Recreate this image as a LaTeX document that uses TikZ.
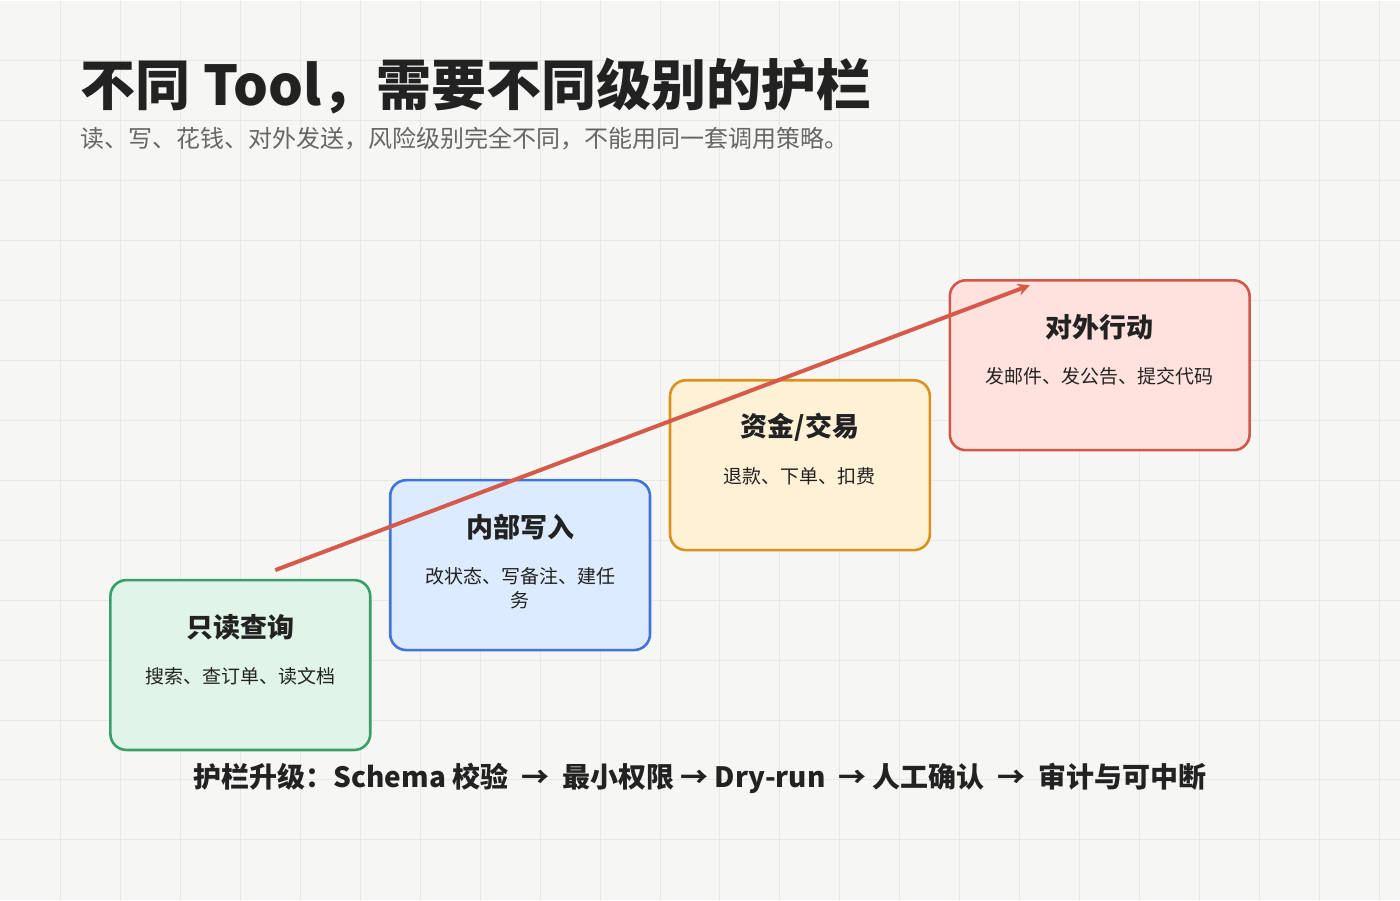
\documentclass[tikz,border=0pt]{standalone}
\usepackage{fontspec}
\setmainfont{Noto Sans CJK SC}
\usetikzlibrary{arrows.meta}
\definecolor{bgpaper}{HTML}{F6F7F4}
\definecolor{gridline}{HTML}{E6E9E0}
\definecolor{inktext}{HTML}{222222}
\definecolor{subtext}{HTML}{666666}
\definecolor{lowfill}{HTML}{E0F4E8}
\definecolor{lowdraw}{HTML}{3A9E6A}
\definecolor{midfill}{HTML}{DDEBFF}
\definecolor{middraw}{HTML}{3F74D8}
\definecolor{highfill}{HTML}{FFF1D6}
\definecolor{highdraw}{HTML}{D9921E}
\definecolor{topfill}{HTML}{FFE2DE}
\definecolor{topdraw}{HTML}{D0574A}
\definecolor{riseline}{HTML}{D65A4A}
\tikzset{
  level/.style={draw, line width=1.3pt, rounded corners=8pt, inner sep=0pt},
  lvtitle/.style={font=\fontsize{13.5}{15}\selectfont\bfseries, text=inktext},
  lvtext/.style={font=\fontsize{9.5}{12}\selectfont, text=inktext, align=center}
}
\begin{document}
\begin{tikzpicture}[x=0.5pt,y=-0.5pt]
    % Paper and grid
    \fill[bgpaper] (0,0) rectangle (1400,900);
    \foreach \gx in {60,120,...,1380}
    \draw[gridline, line width=0.5pt] (\gx,0) -- (\gx,900);
    \foreach \gy in {60,120,...,880}
    \draw[gridline, line width=0.5pt] (0,\gy) -- (1400,\gy);
    % Heading
    \node[anchor=base west, font=\fontsize{27.5}{30}\selectfont\bfseries, text=inktext, inner sep=0pt] (head) at (80,105) {不同 Tool，需要不同级别的护栏};
    \node[anchor=base west, font=\fontsize{12}{14}\selectfont, text=subtext, inner sep=0pt] (sub) at (80,147) {读、写、花钱、对外发送，风险级别完全不同，不能用同一套调用策略。};
    % Levels
    \draw[level, draw=lowdraw, fill=lowfill] (110,580) rectangle (370,750);
    \draw[level, draw=middraw, fill=midfill] (390,480) rectangle (650,650);
    \draw[level, draw=highdraw, fill=highfill] (670,380) rectangle (930,550);
    \draw[level, draw=topdraw, fill=topfill] (950,280) rectangle (1250,450);
    \node[lvtitle] (lowt) at (240,627) {只读查询};
    \node[lvtext] (lowd) at (240,676) {搜索、查订单、读文档};
    \node[lvtitle] (midt) at (520,527) {内部写入};
    \node[lvtext] (midd) at (520,588) {改状态、写备注、建任\\务};
    \node[lvtitle] (hight) at (800,427) {资金/交易};
    \node[lvtext] (highd) at (800,476) {退款、下单、扣费};
    \node[lvtitle] (topt) at (1100,327) {对外行动};
    \node[lvtext] (topd) at (1100,376) {发邮件、发公告、提交代码};
    % Rising arrow
    \coordinate (risefrom) at (275,570);
    \coordinate (riseto) at (1030,285);
    \draw[riseline, line width=2pt, -{Stealth[length=6pt,width=6pt]}] (risefrom) -- (riseto);
    % Footer
    \node[font=\fontsize{14}{16}\selectfont\bfseries, text=inktext] (foot) at (700,778) {护栏升级：Schema 校验 \ → \ 最小权限 → Dry-run \ → 人工确认 \ → \ 审计与可中断};
\end{tikzpicture}
\end{document}
